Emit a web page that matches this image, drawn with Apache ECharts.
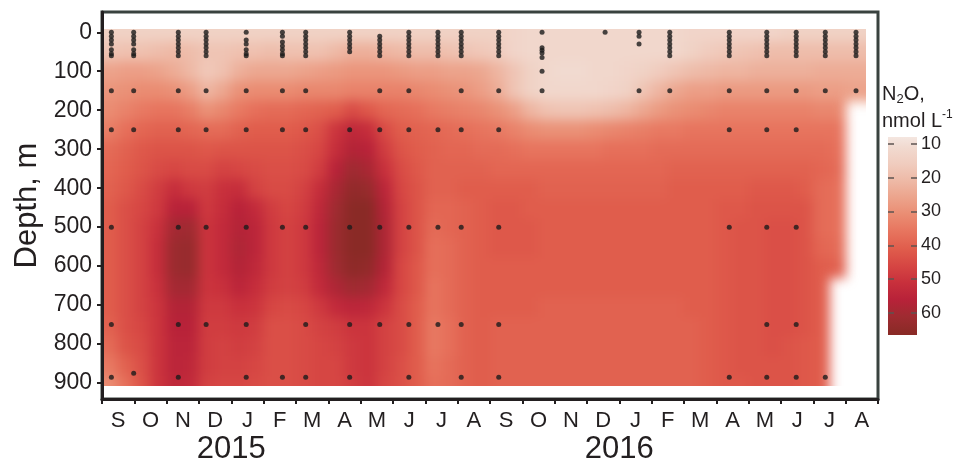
<!DOCTYPE html>
<html>
<head>
<meta charset="utf-8">
<script src="https://cdn.jsdelivr.net/npm/echarts@6.0.0/dist/echarts.min.js"></script>
<style>
html, body { margin: 0; padding: 0; background: #ffffff; }
#wrap { position: relative; width: 963px; height: 465px; overflow: hidden; }
#bg, #fg { position: absolute; left: 0; top: 0; width: 963px; height: 465px; }
#bg { filter: blur(6px); clip-path: inset(29px 97px 79px 104px); }
</style>
</head>
<body>
<div id="wrap"><div id="bg"></div><div id="fg"></div></div>
<script>
// ---------------- DATA ----------------
const monthLabels = ['S','O','N','D','J','F','M','A','M','J','J','A','S','O','N','D','J','F','M','A','M','J','J','A'];
const yearLabels = ['2015', '2016'];
const depthTicks = [0, 100, 200, 300, 400, 500, 600, 700, 800, 900];
const colorbarTicks = [10, 20, 30, 40, 50, 60];

// time (months since 1 Sep 2014) of each gridded column, depth (m) of each gridded row
const gridTimes = [0.25,0.75,1.25,1.75,2.25,2.75,3.25,3.75,4.25,4.75,5.25,5.75,
                   6.25,6.75,7.25,7.75,8.25,8.75,9.25,9.75,10.25,10.75,11.25,11.75,
                   12.25,12.75,13.25,13.75,14.25,14.75,15.25,15.75,16.25,16.75,17.25,17.75,
                   18.25,18.75,19.25,19.75,20.25,20.75,21.25,21.75,22.25,22.75,23.25,23.75];
const gridDepths = [0,50,100,150,200,250,300,350,400,450,500,550,600,650,700,750,800,850,900];

// N2O (nmol/L) read from the section, one list per depth
const n2o_0   = [14,14,14,14,14,14,14,14,14,14,14,14, 14,14,14,14,14,14,14,14,14,14,14,14, 14,13,12,12,12,12,12,12,12,12,12,12, 13,13,13,13,13,13,14,14,14,14,14,14];
const n2o_50  = [18,19,19,20,21,20,18,18,19,19,20,19, 19,19,21,23,23,22,21,20,20,19,18,17, 16,13,12,12,12,12,12,12,12,12,12,12, 14,16,17,18,19,20,20,20,20,20,20,20];
const n2o_100 = [26,27,27,26,24,21,17,19,23,25,25,25, 26,27,28,29,29,29,28,27,27,26,26,25, 22,18,14,12,11,11,12,12,13,14,16,18, 20,21,22,22,23,23,23,23,24,24,24,24];
const n2o_150 = [29,30,31,31,30,27,22,25,30,31,31,31, 32,32,32,33,33,33,33,32,31,30,29,27, 24,18,14,12,12,12,12,13,14,18,22,25, 27,27,28,28,28,28,28,28,27,27,26,26];
const n2o_200 = [31,33,35,36,36,34,30,32,35,37,38,38, 39,40,41,45,42,39,38,37,35,34,33,32, 30,27,22,19,18,18,19,20,22,25,28,30, 31,32,33,33,33,33,33,33,32,32,null,null];
const n2o_250 = [34,37,39,40,40,39,38,38,40,41,41,41, 42,44,50,54,52,45,41,40,39,38,37,36, 35,33,31,30,30,30,31,32,33,34,35,35, 36,36,36,36,36,36,36,36,36,36,null,null];
const n2o_300 = [38,40,42,43,43,43,42,43,43,43,43,43, 44,46,52,57,56,48,43,41,40,39,39,38, 38,37,36,36,36,36,36,37,37,37,38,38, 38,38,38,38,38,38,38,38,38,37,null,null];
const n2o_350 = [39,41,43,45,46,45,45,47,46,45,44,44, 45,48,56,61,59,51,45,42,40,40,40,40, 39,39,39,39,39,39,39,39,39,39,39,40, 40,40,40,40,40,40,40,40,39,38,null,null];
const n2o_400 = [40,42,45,48,52,49,48,51,52,47,45,45, 47,52,59,64,63,55,46,43,40,40,41,41, 41,41,41,40,40,40,40,40,40,40,40,41, 41,41,41,41,42,42,42,41,38,37,null,null];
const n2o_450 = [41,44,46,49,56,56,49,52,56,53,48,46, 48,54,61,66,66,57,47,43,39,39,40,41, 42,42,41,41,41,41,41,41,41,41,41,41, 41,41,42,42,43,43,43,43,38,37,null,null];
const n2o_500 = [41,44,47,51,60,61,50,53,57,55,49,47, 49,55,62,67,67,58,47,43,38,39,40,41, 42,42,42,41,41,41,41,41,41,41,41,41, 41,41,42,43,43,44,44,43,38,37,null,null];
const n2o_550 = [41,44,47,52,62,63,50,53,58,55,49,47, 49,55,62,67,67,58,47,43,37,38,40,41, 42,42,42,41,41,41,41,41,41,41,41,41, 41,41,42,43,43,44,44,43,39,38,null,null];
const n2o_600 = [41,44,47,52,62,63,50,53,57,54,49,47, 49,54,61,65,64,57,46,42,37,38,40,41, 41,41,41,41,41,41,41,41,41,41,41,41, 41,41,42,43,43,44,44,43,41,40,null,null];
const n2o_650 = [41,44,47,51,60,60,50,51,55,52,48,47, 48,53,58,61,60,54,46,42,36,38,40,41, 41,41,41,41,41,41,41,41,41,41,41,41, 41,41,42,43,43,44,44,43,41,null,null,null];
const n2o_700 = [41,44,47,50,57,57,49,49,51,50,46,45, 46,49,53,55,54,50,45,41,36,38,40,41, 41,41,41,40,40,40,40,40,40,40,40,40, 41,41,42,43,43,44,44,43,41,null,null,null];
const n2o_750 = [40,44,46,50,56,56,48,48,49,48,44,44, 45,47,48,50,50,47,45,41,35,37,40,41, 40,40,40,40,40,40,40,40,40,40,40,40, 40,41,42,43,43,44,44,43,41,null,null,null];
const n2o_800 = [38,43,45,50,55,55,48,47,48,47,44,44, 45,46,47,49,50,47,45,41,35,37,40,41, 40,40,40,40,40,40,40,40,40,40,40,40, 40,41,42,43,43,44,43,42,41,null,null,null];
const n2o_850 = [35,40,44,50,55,54,48,47,47,46,44,44, 45,46,46,49,50,47,44,41,36,38,40,41, 40,40,40,40,40,40,40,40,40,40,40,40, 40,41,42,43,43,43,43,42,41,null,null,null];
const n2o_900 = [31,37,43,50,54,53,47,46,46,45,44,44, 45,46,46,48,50,46,44,41,37,38,40,41, 40,40,40,40,40,40,40,40,40,40,40,40, 40,41,42,42,43,43,43,42,41,null,null,null];

// sampling stations: time (months since 1 Sep 2014) and sampled depths (m)
const sampleTimes = [0.29, 0.98, 2.36, 3.22, 4.46, 5.58, 6.30, 7.66, 8.59, 9.49, 10.39,
                     11.11, 12.27, 13.61, 15.56, 16.61, 17.56, 19.40, 20.56, 21.47, 22.37, 23.32];
const sampleDepths = [
  [0,10,20,30,45,55,60,150,250,500,750,885],
  [0,10,20,30,45,55,60,150,250,875],
  [0,10,20,30,40,50,60,150,250,500,750,885],
  [0,10,20,30,40,50,60,150,250,500,750],
  [0,20,30,45,55,60,150,250,500,750,885],
  [0,10,25,35,45,55,60,150,250,500,885],
  [0,10,20,30,40,50,60,150,250,500,750,885],
  [0,10,20,30,40,50,250,500,750,885],
  [10,20,30,40,50,60,150,250,500,750],
  [0,10,20,30,40,50,60,150,250,500,750,885],
  [0,10,20,30,40,50,60,250,500,750],
  [0,10,20,30,40,50,60,150,250,500,750,885],
  [0,10,20,30,40,50,60,150,250,500,750,885],
  [0,40,46,53,65,100,150],
  [0],
  [0,10,30,150],
  [0,10,20,30,40,50,60,150],
  [0,10,20,30,40,50,60,150,250,500,885],
  [0,10,20,30,40,50,60,150,250,500,750,885],
  [0,10,20,30,40,50,60,150,250,500,750,885],
  [0,10,20,30,40,50,60,150,885],
  [0,10,20,30,40,50,60,150]
];

// ---------------- STYLE ----------------
const scaleMin = 6, scaleMax = 66;
const colorScale = ['#f4e6e0','#f1dad0','#f0ccbe','#eeb9a6','#eca38b','#ea8c72','#e7745e',
                    '#e05d4c','#d64643','#c8303c','#b82239','#9f2b31','#8a2a26'];
const cbMin = 8, cbMax = 66.5;
const FONT = '"Liberation Sans", Arial, Helvetica, sans-serif';
const INK = '#231f20';

const n2oRows = [n2o_0,n2o_50,n2o_100,n2o_150,n2o_200,n2o_250,n2o_300,n2o_350,n2o_400,n2o_450,
                 n2o_500,n2o_550,n2o_600,n2o_650,n2o_700,n2o_750,n2o_800,n2o_850,n2o_900];

const xMax = monthLabels.length;
const yMin = -52, yMax = 941;
const GRID = { left: 102, right: 85, top: 12, bottom: 63 };

// ---------------- BACKGROUND FIELD ----------------
const cells = [];
n2oRows.forEach((row, ri) => row.forEach((v, ci) => {
  if (v != null) cells.push([gridTimes[ci], gridDepths[ri], v, ci, ri]);
}));
const colHalf = (gridTimes[1] - gridTimes[0]) / 2;
const rowHalf = (gridDepths[1] - gridDepths[0]) / 2;
const lastCol = gridTimes.length - 1, lastRow = gridDepths.length - 1;

function renderCell(params, api) {
  const t = api.value(0), d = api.value(1), ci = api.value(3), ri = api.value(4);
  let t0 = t - colHalf, t1 = t + colHalf, d0 = d - rowHalf, d1 = d + rowHalf;
  if (ci === 0) t0 -= 2 * colHalf;
  if (ci === lastCol) t1 += 2 * colHalf;
  if (ri === 0) d0 -= 2 * rowHalf;
  if (ri === lastRow) d1 += 2 * rowHalf;
  const p0 = api.coord([t0, d0]), p1 = api.coord([t1, d1]);
  return {
    type: 'rect',
    shape: {
      x: Math.min(p0[0], p1[0]) - 0.5,
      y: Math.min(p0[1], p1[1]) - 0.5,
      width: Math.abs(p1[0] - p0[0]) + 1,
      height: Math.abs(p1[1] - p0[1]) + 1
    },
    style: { fill: api.visual('color') }
  };
}

const bg = echarts.init(document.getElementById('bg'), null, { renderer: 'canvas' });
bg.setOption({
  animation: false,
  grid: Object.assign({}, GRID),
  xAxis: { type: 'value', min: 0, max: xMax, show: false },
  yAxis: { type: 'value', inverse: true, min: yMin, max: yMax, show: false },
  visualMap: {
    type: 'continuous', min: scaleMin, max: scaleMax, dimension: 2, show: false,
    seriesIndex: 0, inRange: { color: colorScale }
  },
  series: [{
    type: 'custom', renderItem: renderCell, data: cells,
    encode: { x: 0, y: 1 }, silent: true, clip: false
  }]
});

// ---------------- FOREGROUND ----------------
const monthTickValues = monthLabels.map((_, i) => i).concat([xMax]);
const monthLabelValues = monthLabels.map((_, i) => i + 0.5);
const yearStarts = [];
monthLabels.forEach((m, i) => { if (i > 0 && m === 'J' && monthLabels[i - 1] === 'D') yearStarts.push(i); });

const samplePoints = [];
sampleTimes.forEach((t, i) => sampleDepths[i].forEach(d => samplePoints.push([t, d])));

const cbGradient = colorScale.map((c, i) => {
  const v = scaleMin + i * (scaleMax - scaleMin) / (colorScale.length - 1);
  return { offset: Math.max(0, Math.min(1, (v - cbMin) / (cbMax - cbMin))), color: c };
});

const fg = echarts.init(document.getElementById('fg'), null, { renderer: 'canvas' });
fg.setOption({
  animation: false,
  backgroundColor: 'transparent',
  textStyle: { fontFamily: FONT },
  grid: [
    Object.assign({ show: true, borderColor: '#39423f', borderWidth: 3, backgroundColor: 'transparent' }, GRID),
    { left: 888, top: 137, width: 29, height: 198 }
  ],
  xAxis: [
    {
      type: 'value', gridIndex: 0, min: 0, max: xMax, position: 'bottom',
      axisLine: { show: true, onZero: false, lineStyle: { color: INK, width: 3 } },
      axisTick: { show: true, customValues: monthTickValues, length: 5, lineStyle: { color: INK, width: 2 } },
      axisLabel: { customValues: monthLabelValues, formatter: v => monthLabels[Math.floor(v)],
                   fontSize: 22, fontFamily: FONT, color: INK, margin: 11 },
      splitLine: { show: false }
    },
    {
      type: 'value', gridIndex: 0, min: 0, max: xMax, position: 'bottom',
      axisLine: { show: false, onZero: false }, axisTick: { show: false },
      axisLabel: { customValues: yearStarts, formatter: v => yearLabels[yearStarts.indexOf(v)],
                   fontSize: 31, fontFamily: FONT, color: INK, margin: 35 },
      splitLine: { show: false }
    },
    { type: 'value', gridIndex: 1, min: 0, max: 1, show: false, axisLine: { onZero: false } }
  ],
  yAxis: [
    {
      type: 'value', gridIndex: 0, inverse: true, min: yMin, max: yMax,
      axisLine: { show: true, onZero: false, lineStyle: { color: INK, width: 3 } },
      axisTick: { show: true, customValues: depthTicks, length: 5, lineStyle: { color: INK, width: 2 } },
      axisLabel: { customValues: depthTicks, fontSize: 23, fontFamily: FONT, color: INK, margin: 10 },
      splitLine: { show: false },
      name: 'Depth, m', nameLocation: 'middle', nameGap: 55,
      nameTextStyle: { fontSize: 31, fontFamily: FONT, color: INK }
    },
    {
      type: 'value', gridIndex: 1, inverse: true, min: cbMin, max: cbMax, position: 'right', z: 10,
      axisLine: { show: false, onZero: false },
      axisTick: { show: true, inside: true, customValues: colorbarTicks, length: 6, lineStyle: { color: '#5e5451', width: 1.5 } },
      axisLabel: { customValues: colorbarTicks, fontSize: 18, fontFamily: FONT, color: INK, margin: 4 },
      splitLine: { show: false }
    },
    {
      type: 'value', gridIndex: 1, inverse: true, min: cbMin, max: cbMax, position: 'left', z: 10,
      axisLine: { show: false, onZero: false },
      axisTick: { show: true, inside: true, customValues: colorbarTicks, length: 6, lineStyle: { color: '#5e5451', width: 1.5 } },
      axisLabel: { show: false },
      splitLine: { show: false }
    }
  ],
  graphic: [
    {
      type: 'text', x: 882, y: 82, z: 10,
      style: {
        text: '{n|N}{s|2}{n|O,}',
        rich: {
          n: { fontSize: 20, fontFamily: FONT, fill: INK, color: INK, lineHeight: 24 },
          s: { fontSize: 13, fontFamily: FONT, fill: INK, color: INK, verticalAlign: 'bottom', lineHeight: 16 }
        }
      }
    },
    {
      type: 'text', x: 882, y: 109, z: 10,
      style: {
        text: '{n|nmol L}{p|-1}',
        rich: {
          n: { fontSize: 20, fontFamily: FONT, fill: INK, color: INK, lineHeight: 24 },
          p: { fontSize: 12, fontFamily: FONT, fill: INK, color: INK, verticalAlign: 'top', lineHeight: 14 }
        }
      }
    }
  ],
  series: [
    {
      type: 'custom', xAxisIndex: 2, yAxisIndex: 1, silent: true, z: 1,
      data: [[0, cbMin, cbMax]],
      renderItem: (params, api) => {
        const a = api.coord([0, api.value(1)]), b = api.coord([1, api.value(2)]);
        return {
          type: 'rect',
          shape: { x: a[0], y: Math.min(a[1], b[1]), width: b[0] - a[0], height: Math.abs(b[1] - a[1]) },
          style: { fill: new echarts.graphic.LinearGradient(0, 0, 0, 1, cbGradient) }
        };
      }
    },
    {
      type: 'scatter', xAxisIndex: 0, yAxisIndex: 0, data: samplePoints,
      symbol: 'circle', symbolSize: 5, itemStyle: { color: '#1b1b1b' }, silent: true, z: 5
    }
  ]
});
</script>
</body>
</html>
